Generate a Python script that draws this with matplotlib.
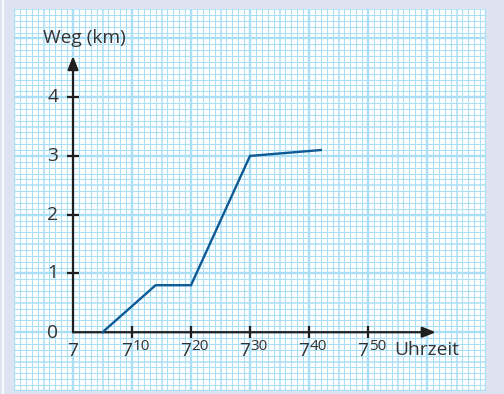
import matplotlib.pyplot as plt
import numpy as np

# Weg-Zeit-Diagramm: Minuten nach 7 Uhr, Weg in km
minutes = [5, 14, 20, 30, 42]
distance_km = [0, 0.8, 0.8, 3.0, 3.1]
y_ticks = [1, 2, 3, 4]
y_tick_labels = ["1", "2", "3", "4"]
x_ticks = [10, 20, 30, 40, 50]
x_tick_labels = ["10", "20", "30", "40", "50"]

plt.rcParams["font.family"] = ["Open Sans", "DejaVu Sans"]

TEXT = "#333333"
AXIS = "#1f1f1f"
LINE = "#0d5a94"
GRID = "#abdff6"
FS = 13.8

fig = plt.figure(figsize=(5.04, 3.94), dpi=100, facecolor="#dde3f0")
fig.add_artist(plt.Line2D([2.5 / 504, 2.5 / 504], [0, 1], color="white", lw=1.2))

ax = fig.add_axes([14 / 504, 3 / 394, 472 / 504, 382 / 394])
ax.set_facecolor("white")
ax.set_xlim(-10, 70)
ax.set_ylim(-1, 5.5)
for s in ax.spines.values():
    s.set_visible(False)
ax.set_xticks([])
ax.set_yticks([])

# millimetre paper
for i in range(-10, 71):
    lw = 1.7 if i % 10 == 0 else (1.1 if i % 5 == 0 else 0.75)
    ax.axvline(i, color=GRID, lw=lw, zorder=0)
for j in range(-10, 56):
    lw = 1.7 if j % 10 == 0 else (1.1 if j % 5 == 0 else 0.75)
    ax.axhline(j / 10, color=GRID, lw=lw, zorder=0)

# axes with arrows
arrow = dict(arrowstyle="-|>,head_length=0.8,head_width=0.32", color=AXIS,
             lw=1.6, mutation_scale=10, shrinkA=0, shrinkB=0)
ax.annotate("", xy=(61.5, 0), xytext=(0, 0), arrowprops=arrow, zorder=3)
ax.annotate("", xy=(0, 4.7), xytext=(0, 0), arrowprops=arrow, zorder=3)
ax.plot(x_ticks, [0] * len(x_ticks), ls="none", marker="|", ms=8, mew=1.6,
        color=AXIS, zorder=3)
ax.plot([0] * len(y_ticks), y_ticks, ls="none", marker="_", ms=8, mew=1.6,
        color=AXIS, zorder=3)

# data
ax.plot(minutes, distance_km, color=LINE, lw=1.7, zorder=4,
        solid_joinstyle="miter")

# labels
ax.text(-3.4, -0.02, "0", ha="center", va="center", fontsize=FS, color=TEXT)
for v, lab in zip(y_ticks, y_tick_labels):
    ax.text(-3.4, v, lab, ha="center", va="center", fontsize=FS, color=TEXT)
ax.text(0, -0.32, "7", ha="center", va="center", fontsize=FS, color=TEXT)
for t, lab in zip(x_ticks, x_tick_labels):
    ax.text(t, -0.32, "7", ha="right", va="center", fontsize=FS, color=TEXT)
    ax.text(t + 0.1, -0.24, lab, ha="left", va="center", fontsize=11,
            color=TEXT)
ax.text(2.0, 5.0, "Weg (km)", ha="center", va="center", fontsize=FS,
        color=TEXT)
ax.text(60.0, -0.3, "Uhrzeit", ha="center", va="center", fontsize=FS,
        color=TEXT)

fig.savefig("out.png", dpi=100, facecolor=fig.get_facecolor())
